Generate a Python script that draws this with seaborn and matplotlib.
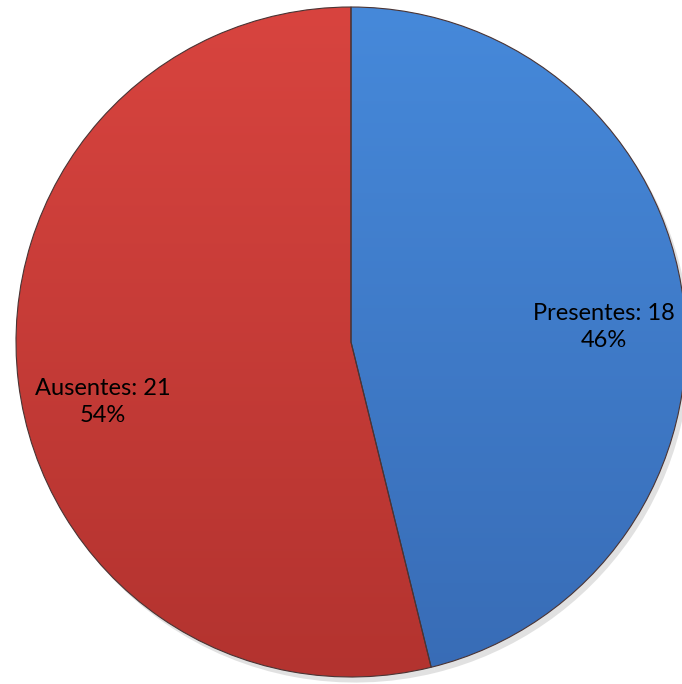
import numpy as np
import matplotlib
matplotlib.use("Agg")
import matplotlib.pyplot as plt
import matplotlib.patches as mpatches
import seaborn as sns
from matplotlib.colors import LinearSegmentedColormap

categories = ["Presentes", "Ausentes"]
values = [18, 21]
top_colors = ["#4689DA", "#D8443F"]
bottom_colors = ["#386CB6", "#B3332F"]

sns.set_style("white")
plt.rcParams['font.family'] = ['Lato', 'DejaVu Sans']

fig = plt.figure(figsize=(6.82, 6.84), dpi=100)
ax = fig.add_axes([0, 0, 1, 1])

cx, cy, r = 351, 342, 335
wedges, _ = ax.pie(values, startangle=90, counterclock=False, radius=r,
                   center=(cx, cy), frame=True,
                   colors=top_colors,
                   shadow={'ox': 3, 'oy': -4},
                   wedgeprops=dict(edgecolor="#4a3434", linewidth=0.8))
for p in ax.patches:
    if isinstance(p, mpatches.Shadow):
        p.set_facecolor("#bdbdbd")
        p.set_edgecolor("none")
        p.set_alpha(0.45)
ax.set_xlim(0, 682)
ax.set_ylim(0, 684)
ax.set_aspect('equal')
ax.axis('off')

grad = np.linspace(0, 1, 256).reshape(-1, 1)
for w, ct, cb in zip(wedges, top_colors, bottom_colors):
    cmap = LinearSegmentedColormap.from_list("g", [cb, ct])
    im = ax.imshow(grad, cmap=cmap, extent=(cx - r, cx + r, cy - r, cy + r),
                   origin='lower', aspect='auto', zorder=w.get_zorder() + 0.1)
    im.set_clip_path(w)
    w.set_facecolor('none')
    w.set_zorder(w.get_zorder() + 0.2)
ax.set_xlim(0, 682)
ax.set_ylim(0, 684)

total = sum(values)
label_pos = [(604, 357), (103, 282)]
for cat, v, (lx, ly) in zip(categories, values, label_pos):
    pct = round(100 * v / total)
    ax.text(lx, ly, f"{cat}: {v}\n{pct}%", ha='center', va='center',
            fontsize=17, color='black', linespacing=1.3, zorder=10)

fig.savefig("out.png", dpi=100)
